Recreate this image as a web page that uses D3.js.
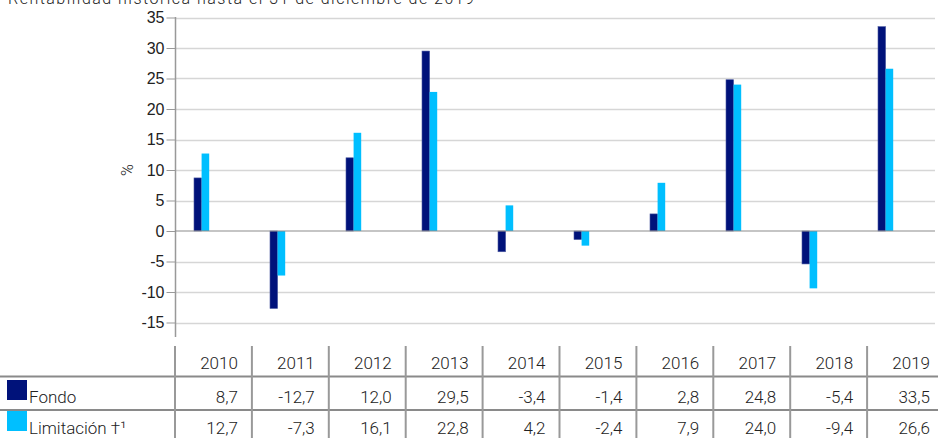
<!DOCTYPE html>
<html>
<head>
<meta charset="utf-8">
<script src="https://cdn.jsdelivr.net/npm/d3@7"></script>
<style>
  body { margin: 0; background: #fff; }
  svg { display: block; font-family: Roboto, "Noto Sans", sans-serif; font-weight: 300; }
</style>
</head>
<body>
<svg id="chart" width="938" height="438"></svg>
<script>
const years = ["2010", "2011", "2012", "2013", "2014", "2015", "2016", "2017", "2018", "2019"];
const fondo = [8.7, -12.7, 12.0, 29.5, -3.4, -1.4, 2.8, 24.8, -5.4, 33.5];
const limitacion = [12.7, -7.3, 16.1, 22.8, 4.2, -2.4, 7.9, 24.0, -9.4, 26.6];
const seriesNames = ["Fondo", "Limitación \u2020\u00b9"];
const seriesColors = ["#00127a", "#00bfff"];
const yTicks = [-15, -10, -5, 0, 5, 10, 15, 20, 25, 30, 35];
const title = "Rentabilidad histórica hasta el 31 de diciembre de 2019";

const svg = d3.select("#chart");
const fmt = (v) => d3.format(".1f")(v).replace(".", ",").replace("−", "-");

// scales
const x = d3.scaleBand().domain(years).range([175, 935]);
const xTable = d3.scaleBand().domain(years).range([175, 944]);
const y = d3.scaleLinear().domain([-15, 35]).range([322.5, 17.5]);

// title (cut at the top edge, as in the source)
svg.append("text")
  .attr("x", 8)
  .attr("y", 4)
  .attr("font-size", 16)
  .attr("fill", "#222")
  .attr("textLength", 466)
  .text(title);

// gridlines
svg.append("g")
  .selectAll("line")
  .data(yTicks.filter((d) => d !== 0))
  .join("line")
  .attr("x1", 176)
  .attr("x2", 935)
  .attr("y1", (d) => Math.round(y(d)) + 0.5)
  .attr("y2", (d) => Math.round(y(d)) + 0.5)
  .attr("stroke", "#d6d6d6")
  .attr("stroke-width", 1.5);

// left axis
const axisLeft = svg.append("g")
  .attr("transform", "translate(175.5, 0)")
  .call(d3.axisLeft(y).tickValues(yTicks).tickSize(9).tickSizeOuter(0).tickPadding(2));
axisLeft.select(".domain").remove();
axisLeft.selectAll(".tick line").attr("stroke", "#999");
axisLeft.selectAll(".tick text")
  .attr("font-size", 16)
  .attr("fill", "#222")
  .attr("font-family", null)
  .text((d) => d3.format("d")(d).replace("−", "-"));
svg.append("line")
  .attr("x1", 175.5).attr("x2", 175.5)
  .attr("y1", 17).attr("y2", 337)
  .attr("stroke", "#999").attr("stroke-width", 1.5);

// % label
svg.append("text")
  .attr("transform", `translate(133, ${y(10)}) rotate(-90)`)
  .attr("text-anchor", "middle")
  .attr("font-size", 16)
  .attr("fill", "#222")
  .text("%");

// bars
const barW = x.bandwidth() * 0.1;
const groups = [fondo, limitacion];
groups.forEach((values, s) => {
  svg.append("g")
    .selectAll("rect")
    .data(values)
    .join("rect")
    .attr("x", (d, i) => x(years[i]) + x.bandwidth() * 0.25 + s * barW)
    .attr("width", barW)
    .attr("y", (d) => y(Math.max(0, d)))
    .attr("height", (d) => Math.abs(y(d) - y(0)))
    .attr("fill", seriesColors[s])
    .attr("stroke", s === 0 ? "#4a58a0" : "none")
    .attr("stroke-width", 0.6);
});

// zero line
svg.append("line")
  .attr("x1", 175).attr("x2", 935)
  .attr("y1", y(0)).attr("y2", y(0))
  .attr("stroke", "#8c8c8c").attr("stroke-width", 1.2);

// data table
const table = svg.append("g");
const rowLines = [376.5, 410];
table.selectAll("line.row")
  .data(rowLines)
  .join("line")
  .attr("class", "row")
  .attr("x1", 0).attr("x2", 938)
  .attr("y1", (d) => d).attr("y2", (d) => d)
  .attr("stroke", "#8a8a8a").attr("stroke-width", 2);

table.selectAll("line.col")
  .data(years)
  .join("line")
  .attr("class", "col")
  .attr("x1", (d) => xTable(d)).attr("x2", (d) => xTable(d))
  .attr("y1", 346).attr("y2", 438)
  .attr("stroke", "#999").attr("stroke-width", 2);

table.selectAll("text.year")
  .data(years)
  .join("text")
  .attr("class", "year")
  .attr("x", (d) => xTable(d) + xTable.bandwidth() - 14)
  .attr("y", 369)
  .attr("text-anchor", "end")
  .attr("font-size", 17)
  .attr("fill", "#222")
  .text((d) => d);

const rowBase = [403, 434];
groups.forEach((values, s) => {
  table.append("rect")
    .attr("x", 7).attr("y", rowBase[s] - 23)
    .attr("width", 20).attr("height", 20)
    .attr("fill", seriesColors[s]);
  table.append("text")
    .attr("x", 29).attr("y", rowBase[s])
    .attr("font-size", 17)
    .attr("fill", "#222")
    .text(seriesNames[s]);
  table.selectAll(null)
    .data(values)
    .join("text")
    .attr("x", (d, i) => xTable(years[i]) + xTable.bandwidth() - 14)
    .attr("y", rowBase[s])
    .attr("text-anchor", "end")
    .attr("font-size", 17)
    .attr("fill", "#222")
    .text(fmt);
});
</script>
</body>
</html>
